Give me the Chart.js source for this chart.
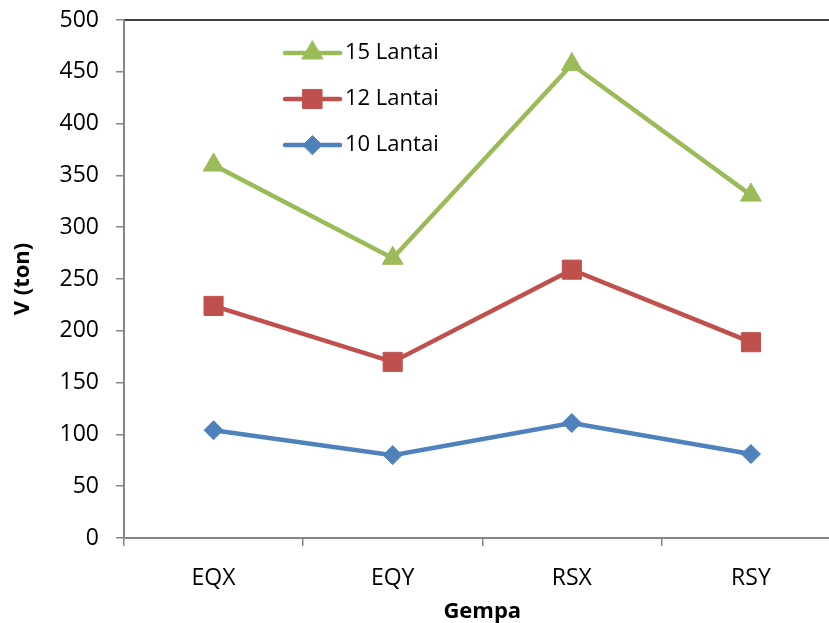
<!DOCTYPE html>
<html>
<head>
<meta charset="utf-8">
<script src="https://cdn.jsdelivr.net/npm/chart.js@4/dist/chart.umd.min.js"></script>
<style>
  html, body { margin: 0; padding: 0; background: #fff; overflow: hidden; }
  #wrap { width: 829px; height: 623px; overflow: hidden; position: relative; }
  canvas { position: absolute; left: 0; top: 0; }
</style>
</head>
<body>
<div id="wrap"><canvas id="c" width="855" height="623"></canvas></div>
<script>
// Base shear per earthquake load case, for three building heights
const categories = ['EQX', 'EQY', 'RSX', 'RSY'];
const lantai10 = [104, 80, 111, 81];
const lantai12 = [224, 170, 259, 189];
const lantai15 = [360, 270, 457, 331];
const seriesNames = ['10 Lantai', '12 Lantai', '15 Lantai'];
const yTicks = { min: 0, max: 500, step: 50 };

Chart.defaults.font.family = "'Open Sans', 'Noto Sans', sans-serif";
Chart.defaults.font.size = 23;
Chart.defaults.color = '#000';

const AXIS_GRAY = '#868686';

// Fixed axis boxes, without the extra room reserved for edge labels
function fixBox(size) {
  return function (s) {
    if (s.isHorizontal()) s.height = size; else s.width = size;
    s.paddingTop = 0; s.paddingBottom = 0; s.paddingLeft = 0; s.paddingRight = 0;
  };
}

// White background and black plot frame, drawn underneath the axes
const framePlugin = {
  id: 'frame',
  beforeDraw(chart) {
    const { ctx, chartArea: a } = chart;
    ctx.save();
    ctx.fillStyle = '#fff';
    ctx.fillRect(0, 0, chart.width, chart.height);
    ctx.strokeStyle = '#000';
    ctx.lineWidth = 1.5;
    ctx.strokeRect(a.left, a.top, a.right - a.left, a.bottom - a.top);
    ctx.restore();
  }
};

// Legend inside the plot: line sample with marker, newest series on top
const insideLegend = {
  id: 'insideLegend',
  afterDatasetsDraw(chart) {
    const { ctx } = chart;
    const ds = chart.data.datasets.slice().reverse();
    const x0 = 285, x1 = 340, textX = 345, rowY0 = 53, rowGap = 46;
    ctx.save();
    ds.forEach((d, i) => {
      const y = rowY0 + i * rowGap;
      ctx.strokeStyle = d.borderColor;
      ctx.lineWidth = d.borderWidth;
      ctx.lineCap = 'round';
      ctx.beginPath();
      ctx.moveTo(x0, y);
      ctx.lineTo(x1, y);
      ctx.stroke();
      ctx.fillStyle = d.pointBackgroundColor;
      ctx.strokeStyle = d.pointBorderColor;
      ctx.lineWidth = d.pointBorderWidth;
      Chart.helpers.drawPoint(ctx, {
        pointStyle: d.pointStyle, radius: d.pointRadius, rotation: 0, borderWidth: d.pointBorderWidth
      }, (x0 + x1) / 2, y);
      ctx.fillStyle = '#000';
      ctx.font = "22px 'Open Sans', 'Noto Sans', sans-serif";
      ctx.textBaseline = 'middle';
      ctx.textAlign = 'left';
      ctx.fillText(d.label, textX, y);
    });
    ctx.restore();
  }
};

function series(label, data, color, style, radius) {
  return {
    label, data,
    borderColor: color,
    backgroundColor: color,
    borderWidth: 4.5,
    pointStyle: style,
    pointRadius: radius,
    pointHoverRadius: radius,
    pointBackgroundColor: color,
    pointBorderColor: color,
    pointBorderWidth: 1,
    tension: 0,
    clip: false
  };
}

new Chart(document.getElementById('c'), {
  type: 'line',
  data: {
    labels: categories,
    datasets: [
      series(seriesNames[0], lantai10, '#4F81BD', 'rectRot', 9.5),
      series(seriesNames[1], lantai12, '#C0504D', 'rect', 13.5),
      series(seriesNames[2], lantai15, '#9BBB59', 'triangle', 12)
    ]
  },
  options: {
    responsive: false,
    animation: false,
    devicePixelRatio: 1,
    layout: { padding: { top: 20, right: 9.5, left: 0, bottom: 0 } },
    plugins: { legend: { display: false }, tooltip: { enabled: false } },
    scales: {
      x: {
        offset: true,
        afterFit: fixBox(85),
        grid: { offset: true, drawOnChartArea: false, drawTicks: true, tickLength: 8, color: AXIS_GRAY, lineWidth: 1.5 },
        border: { display: true, color: AXIS_GRAY, width: 2 },
        ticks: { padding: 19, color: '#000', font: { size: 23 } },
        title: { display: true, text: 'Gempa', font: { size: 22, weight: 'bold' }, color: '#000', padding: { top: 0, bottom: -2 } }
      },
      y: {
        min: yTicks.min,
        max: yTicks.max,
        afterFit: fixBox(124),
        grid: { drawOnChartArea: false, drawTicks: true, tickLength: 8, color: AXIS_GRAY, lineWidth: 1.5 },
        border: { display: true, color: AXIS_GRAY, width: 2 },
        ticks: { stepSize: yTicks.step, padding: 17, color: '#000', font: { size: 23 } },
        title: { display: true, text: 'V (ton)', font: { size: 22, weight: 'bold' }, color: '#000', padding: { top: 10, bottom: 0 } }
      }
    }
  },
  plugins: [framePlugin, insideLegend]
});
</script>
</body>
</html>
